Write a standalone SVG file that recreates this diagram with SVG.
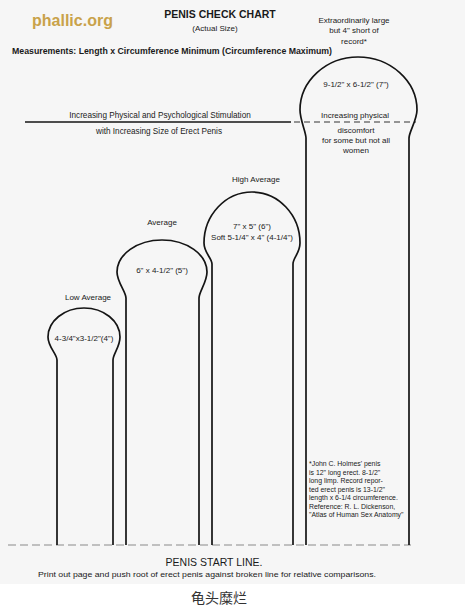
<svg xmlns="http://www.w3.org/2000/svg" width="465" height="610" viewBox="0 0 465 610">
<style>
text{font-family:"Liberation Sans",Arial,sans-serif;fill:#1a1a1a}
.s{font-size:8px}
.m{font-size:8px;text-anchor:middle}
.f{font-size:6.9px}
.shape{fill:none;stroke:#141414;stroke-width:1.7}
.dash{stroke:#8a8a8a;stroke-width:1.2;stroke-dasharray:8 4;fill:none}
</style>
<rect x="0" y="0" width="465" height="584" fill="#f6f6f6"/>
<rect x="0" y="584" width="465" height="26" fill="#ffffff"/>

<g id="header">
<text x="32" y="26" style="font-size:16px;font-weight:bold;fill:#c9a24a">phallic.org</text>
<text x="220" y="18" style="font-size:10.5px;font-weight:bold;text-anchor:middle">PENIS CHECK CHART</text>
<text x="215" y="31" class="m">(Actual Size)</text>
<text x="12" y="54" style="font-size:8.3px;font-weight:bold" textLength="320" lengthAdjust="spacingAndGlyphs">Measurements: Length x Circumference Minimum (Circumference Maximum)</text>
</g>

<g id="connectors">
<line x1="25" y1="122" x2="291" y2="122" stroke="#141414" stroke-width="1.6"/>
<line x1="294" y1="122" x2="416" y2="122" class="dash" style="stroke:#333;stroke-dasharray:6 4"/>
<line x1="8" y1="545" x2="411" y2="545" class="dash"/>
</g>

<g id="stimulation">
<text x="160" y="118" class="m" style="font-size:8.2px">Increasing Physical and Psychological Stimulation</text>
<text x="159" y="134" class="m" style="font-size:8.2px">with Increasing Size of Erect Penis</text>
</g>

<g id="low-average">
<path class="shape" d="M57,545 V360 C57,354 48,347 48,337 C48,321 64.2,308 84,308 C103.8,308 120,321 120,337 C120,347 113,354 113,360 V545"/>
<text x="88" y="300" class="m">Low Average</text>
<text x="84" y="341" class="m">4-3/4"x3-1/2"(4")</text>
</g>

<g id="average">
<path class="shape" d="M126,545 V298 C126,292 117,282 117,272 C117,254.4 137.25,240 162,240 C186.75,240 207,254.4 207,272 C207,282 199,292 199,298 V545"/>
<text x="162" y="225" class="m">Average</text>
<text x="162" y="273" class="m">6" x 4-1/2" (5")</text>
</g>

<g id="high-average">
<path class="shape" d="M212,545 V264 C212,258 204,253 204,243 C204,215 225.6,192 252,192 C278.4,192 300,215 300,243 C300,253 293,258 293,264 V545"/>
<text x="256" y="182" class="m">High Average</text>
<text x="252" y="229" class="m">7" x 5" (6")</text>
<text x="252" y="240" class="m">Soft 5-1/4" x 4" (4-1/4")</text>
</g>

<g id="extraordinary">
<path class="shape" d="M306,545 V138 C306,132 300,120 300,110 C300,81 326.1,57 358,57 C390.45,57 417,81 417,110 C417,120 409,132 409,138 V545"/>
<text x="354" y="23" class="m">Extraordinarily large</text>
<text x="354" y="33" class="m">but 4" short of</text>
<text x="354" y="44" class="m">record*</text>
<text x="356" y="87" class="m">9-1/2" x 6-1/2" (7")</text>
<text x="355" y="118" class="m">Increasing physical</text>
<text x="356" y="133" class="m">discomfort</text>
<text x="356" y="143" class="m">for some but not all</text>
<text x="356" y="153" class="m">women</text>
</g>

<g id="footnote">
<text x="309" y="466" class="f">*John C. Holmes' penis</text>
<text x="309" y="474.5" class="f">is 12" long erect. 8-1/2"</text>
<text x="309" y="483" class="f">long limp. Record repor-</text>
<text x="309" y="491.5" class="f">ted erect penis is 13-1/2"</text>
<text x="309" y="500" class="f">length x 6-1/4 circumference.</text>
<text x="309" y="508.5" class="f">Reference: R. L. Dickenson,</text>
<text x="309" y="517" class="f">"Atlas of Human Sex Anatomy"</text>
</g>

<g id="footer">
<text x="214" y="566" style="font-size:10.5px;text-anchor:middle">PENIS START LINE.</text>
<text x="38" y="577" style="font-size:8px" textLength="338" lengthAdjust="spacingAndGlyphs">Print out page and push root of erect penis against broken line for relative comparisons.</text>
<text x="219" y="603" style="font-size:14px;text-anchor:middle;font-family:'Noto Sans CJK SC','Noto Sans CJK TC',sans-serif;fill:#333">龟头糜烂</text>
</g>
</svg>
